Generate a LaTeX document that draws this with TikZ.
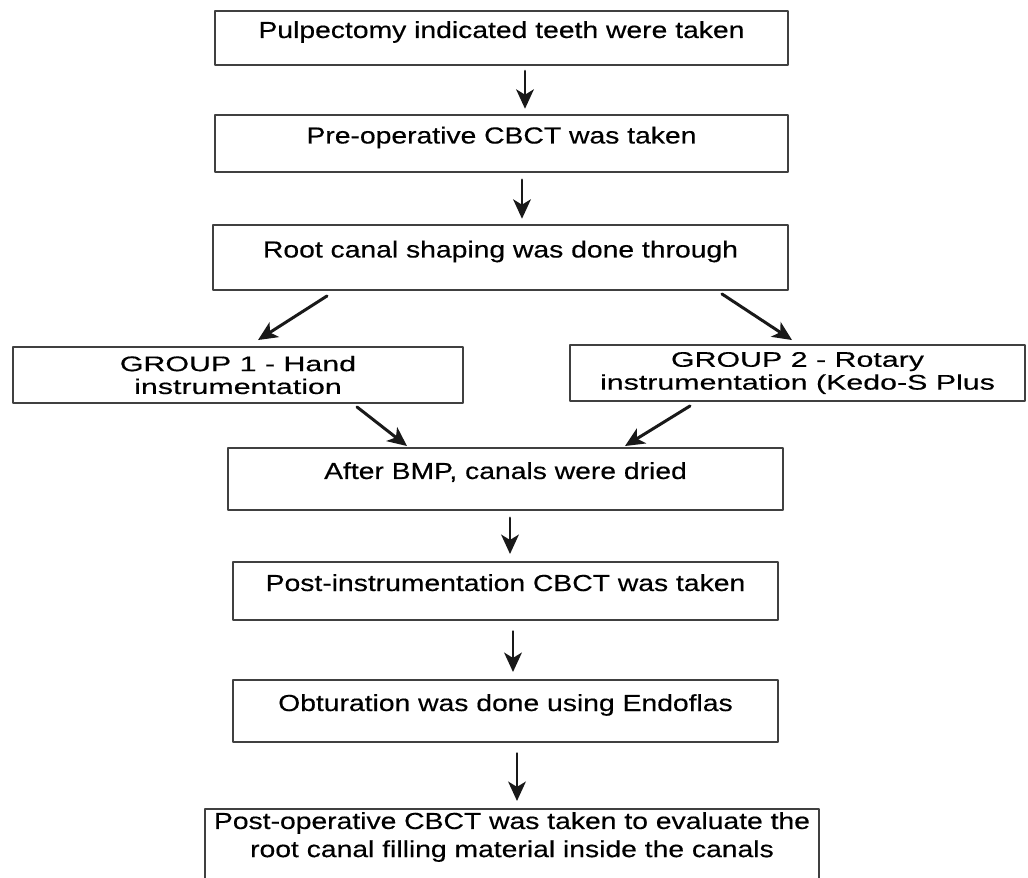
\documentclass[tikz,border=0pt]{standalone}
\usepackage{fontspec}
\setmainfont{Liberation Sans}
\newfontfamily\boxfont[FakeStretch=1.22,FakeBold=0.4]{Liberation Sans}
\newfontfamily\groupfont[FakeStretch=1.44,FakeBold=0.4]{Liberation Sans}
\usetikzlibrary{arrows.meta}
\usetikzlibrary{positioning}

\begin{document}
\begin{tikzpicture}[line cap=round,line join=round,x=0.02cm,y=-0.02cm,
  >={Stealth[length=11pt,width=10pt,inset=3pt]},
  stepbox/.style={draw=black!75,line width=1.1pt,inner sep=0pt,text height=5pt,text depth=5pt,
    font=\boxfont\fontsize{13.2}{16}\selectfont},
  groupbox/.style={draw=black!75,line width=1.1pt,inner sep=0pt,align=center,
    font=\groupfont\fontsize{12}{13}\selectfont},
  arr/.style={->,line width=1.7pt,black!90}]
\useasboundingbox (0,0) rectangle (1028,878);
\clip (0,0) rectangle (1028,878);
\node[stepbox,minimum width=11.46cm,minimum height=1.08cm] (pulp) at (501.5,38) {Pulpectomy indicated teeth were taken};
\node[stepbox,minimum width=11.46cm,minimum height=1.14cm] (preop) at (501.5,143.5) {Pre-operative CBCT was taken};
\node[stepbox,minimum width=11.5cm,minimum height=1.3cm] (shaping) at (500.5,257.5) {Root canal shaping was done through};
\node[groupbox,minimum width=9.0cm,minimum height=1.12cm] (hand) at (238,375) {GROUP 1 - Hand\\instrumentation};
\node[groupbox,minimum width=9.1cm,minimum height=1.12cm] (rotary) at (797.5,373) {GROUP 2 - Rotary\\instrumentation (Kedo-S Plus};
\node[stepbox,minimum width=11.1cm,minimum height=1.24cm] (dried) at (505.5,479) {After BMP, canals were dried};
\node[stepbox,minimum width=10.9cm,minimum height=1.16cm] (postinst) at (505.5,591) {Post-instrumentation CBCT was taken};
\node[stepbox,minimum width=10.9cm,minimum height=1.24cm] (obtur) at (505.5,711) {Obturation was done using Endoflas};
\node[stepbox,text height=,text depth=,align=center,minimum width=12.3cm,minimum height=1.8cm,anchor=north] (postop) at (512,808) {Post-operative CBCT was taken to evaluate the\\root canal filling material inside the canals\\[6pt]};
\draw[arr,shorten <=3pt,shorten >=3pt] ([xshift=0.47cm]pulp.south) -- ([xshift=0.47cm]pulp.south |- preop.north);
\draw[arr,shorten <=4pt,shorten >=3pt] ([xshift=0.41cm]preop.south) -- ([xshift=0.41cm]preop.south |- shaping.north);
\draw[arr] ([xshift=-3.47cm,yshift=-0.1cm]shaping.south) -- ([xshift=0.4cm,yshift=0.12cm]hand.north);
\draw[arr] ([xshift=4.43cm,yshift=-0.06cm]shaping.south) -- ([xshift=-0.11cm,yshift=0.08cm]rotary.north);
\draw[arr] ([xshift=2.38cm,yshift=-0.06cm]hand.south) -- ([xshift=-1.97cm,yshift=0.02cm]dried.north);
\draw[arr] ([xshift=-2.15cm,yshift=-0.08cm]rotary.south) -- ([xshift=2.39cm,yshift=0.02cm]dried.north);
\draw[arr,shorten <=4pt,shorten >=4pt] ([xshift=0.09cm]dried.south) -- ([xshift=0.09cm]dried.south |- postinst.north);
\draw[arr,shorten <=6pt,shorten >=4pt] ([xshift=0.15cm]postinst.south) -- ([xshift=0.15cm]postinst.south |- obtur.north);
\draw[arr,shorten <=6pt,shorten >=4pt] ([xshift=0.23cm]obtur.south) -- ([xshift=0.23cm]obtur.south |- postop.north);
\end{tikzpicture}
\end{document}
